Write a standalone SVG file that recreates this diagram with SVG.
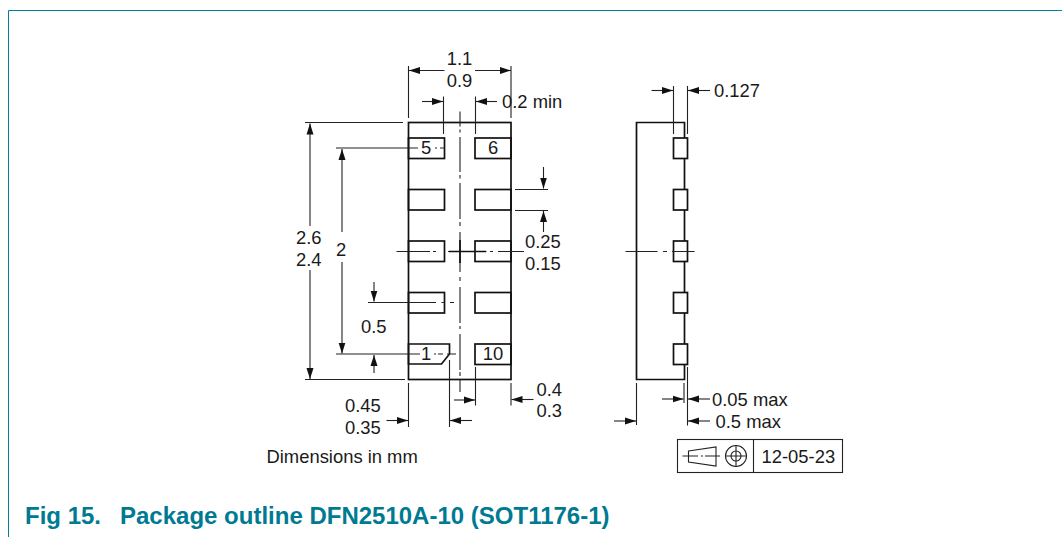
<svg xmlns="http://www.w3.org/2000/svg" width="1062" height="537" viewBox="0 0 1062 537">
<defs>
<marker id="a" markerUnits="userSpaceOnUse" markerWidth="12" markerHeight="9" refX="11" refY="4" orient="auto"><path d="M0 0.500L11 4L0 7.500Z" fill="#111"/></marker>
</defs>
<style>
text{font-family:"Liberation Sans",Arial,sans-serif;font-size:18.400px;fill:#1a1a1a}
.o{fill:none;stroke:#111;stroke-width:1.700}
.p{fill:#fff;stroke:#111;stroke-width:1.700}
.d{fill:none;stroke:#222;stroke-width:1.100}
.m{fill:none;stroke:#222;stroke-width:1.100;marker-end:url(#a)}
.mid{text-anchor:middle}
</style>
<rect width="1062" height="537" fill="#fff"/>
<path d="M8.500 537V10.500H1062" fill="none" stroke="#007f99" stroke-width="1"/>
<g id="front-view">
<rect id="body" class="o" x="408.500" y="122.500" width="102.500" height="257"/>
<g id="pad-5"><rect class="o" x="408.500" y="138" width="36" height="20.500"/></g>
<g id="pad-6"><rect class="o" x="475" y="138" width="36" height="20.500"/></g>
<g id="pad-4"><rect class="o" x="408.500" y="189.500" width="36" height="20.500"/></g>
<g id="pad-7"><rect class="o" x="475" y="189.500" width="36" height="20.500"/></g>
<g id="pad-3"><rect class="o" x="408.500" y="241" width="36" height="20.500"/></g>
<g id="pad-8"><rect class="o" x="475" y="241" width="36" height="20.500"/></g>
<g id="pad-2"><rect class="o" x="408.500" y="292.500" width="36" height="20.500"/></g>
<g id="pad-9"><rect class="o" x="475" y="292.500" width="36" height="20.500"/></g>
<g id="pad-1"><path class="o" d="M408.500 344H449.500V354L441.500 364H408.500Z"/></g>
<g id="pad-10"><rect class="o" x="475" y="344" width="36" height="20.500"/></g>
</g>
<g id="side-view">
<path class="o" d="M684.500 122.500H636.500V379.500H684.500Z"/>
<rect class="p" x="673.500" y="138" width="14" height="20.500"/>
<rect class="p" x="673.500" y="189.500" width="14" height="20.500"/>
<rect class="p" x="673.500" y="241" width="14" height="20.500"/>
<rect class="p" x="673.500" y="292.500" width="14" height="20.500"/>
<rect class="p" x="673.500" y="344" width="14" height="20.500"/>
</g>
<g id="connectors">
<path class="d" d="M460 111.500V126.500M460 129.500V132.500M460 137V172M460 175V178.500M460 183V219M460 222V226M460 232V272M460 277V281M460 287V323M460 326V329M460 334V370M460 372V376M460 380V392"/>
<path class="d" d="M396.500 251.500H430M433 251.500H436M448 251.500H486.500M490 251.500H493M498 251.500H524"/>
<path class="o" d="M449 251.500H486M460 240V263"/>
<path class="d" d="M625.500 251.500H657.500M663 251.500H667M672 251.500H694.500"/>
<path class="d" d="M408.500 66V118M511 66V118"/>
<path class="m" d="M444.500 70.500H409"/><path class="m" d="M475 70.500H511"/>
<path class="d" d="M443.500 96.500V134M475.500 96.500V134"/>
<path class="m" d="M422 101.500H443"/><path class="m" d="M497 101.500H476"/>
<path class="d" d="M305 122.500H403"/>
<path class="m" d="M310 226V123.500"/><path class="m" d="M310 270V379"/>
<path class="d" d="M305 379.500H405"/>
<path class="d" d="M336 148H418M435 148H437M440 148H445"/>
<path class="m" d="M342 232V149"/><path class="m" d="M342 262V353.500"/>
<path class="d" d="M336 354H420M434 354H436M438 354H443M447 354H456"/>
<path class="m" d="M374 282V301.500"/><path class="d" d="M368 302.500H436M441.500 302.500H445M450 302.500H454"/>
<path class="m" d="M374 373V355"/>
<path class="m" d="M543.500 167V188.500"/><path class="d" d="M515 189.500H548M515 210.500H548"/><path class="m" d="M543.500 232V211"/>
<path class="d" d="M408.500 383V427M449.500 360V427M475.500 367V405.500M511 383V405.500"/>
<path class="m" d="M386.500 420.500H408"/><path class="m" d="M472 420.500H450"/>
<path class="m" d="M454 400H475"/><path class="m" d="M533.500 399.500H511.500"/>
<path class="d" d="M673.500 86V134M687.500 86V134"/>
<path class="m" d="M651.500 90.500H673"/><path class="m" d="M710 90.500H688"/>
<path class="d" d="M636.500 383V425M684 383V403M687.500 367V425.500"/>
<path class="m" d="M614 421H636"/><path class="m" d="M662 399H683.500"/><path class="m" d="M710 399H688"/><path class="m" d="M710 421H688"/>
</g>
<g id="labels">
<text class="mid" x="426" y="154">5</text><text class="mid" x="493" y="154">6</text>
<text class="mid" x="426" y="360">1</text><text class="mid" x="493" y="360">10</text>
<text class="mid" x="459.500" y="65">1.1</text><text class="mid" x="459.500" y="87">0.9</text>
<text x="502" y="108">0.2 min</text><text x="714" y="97">0.127</text>
<text x="296" y="244">2.6</text><text x="296" y="266">2.4</text><text x="336" y="256">2</text>
<text x="525" y="248">0.25</text><text x="525" y="270">0.15</text>
<text x="361" y="333">0.5</text>
<text x="345" y="412">0.45</text><text x="345" y="434">0.35</text>
<text x="536.500" y="396">0.4</text><text x="536.500" y="417">0.3</text>
<text x="712" y="406">0.05 max</text><text x="715.500" y="428">0.5 max</text>
<text x="266.500" y="463">Dimensions in mm</text>
<text y="524" style="font-size:24px;font-weight:700;fill:#007a93"><tspan x="25">Fig 15.</tspan><tspan x="120">Package outline DFN2510A-10 (SOT1176-1)</tspan></text>
</g>
<g id="projection-box">
<rect class="d" x="677.500" y="439.500" width="165" height="33"/>
<path class="d" d="M753.500 439.500V472.500"/>
<path class="d" d="M688.500 451L716 447V466L688.500 462Z"/>
<path class="d" d="M682.500 456H698M701 456H703M705 456H720"/>
<circle class="d" cx="736" cy="456" r="10.500"/><circle class="d" cx="736" cy="456" r="5"/>
<path class="d" d="M736 445V467M725 456H747"/>
<text x="761.500" y="463">12-05-23</text>
</g>
</svg>
